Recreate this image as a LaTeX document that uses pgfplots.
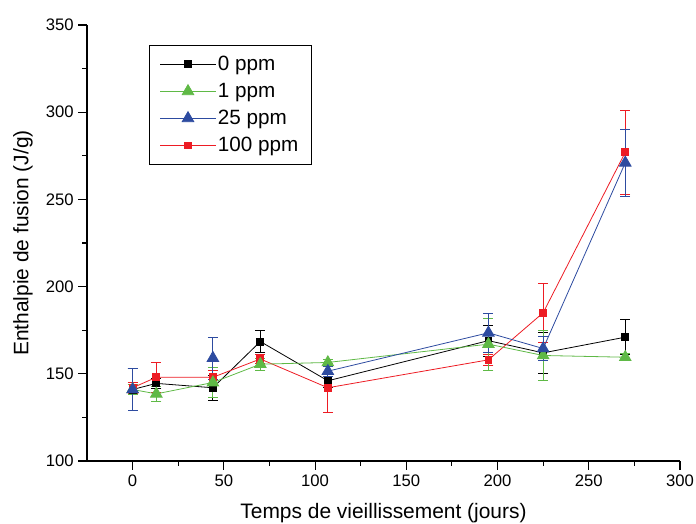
\documentclass[border=0pt]{standalone}
\usepackage{pgfplots}
\pgfplotsset{compat=1.18}
\usepackage{pgfplotstable}
\usepackage{fontspec}
\setmainfont{Liberation Sans}
\definecolor{cgreen}{RGB}{95,185,70}
\definecolor{cblue}{RGB}{45,75,160}
\definecolor{cred}{RGB}{237,28,36}

\pgfplotstableread{
x y e
0 141 12
13 144.5 3
44 142 7
70 168.5 6.5
107 146 4
195 169 9
225 162 12
270 171 10
}\tblack
\pgfplotstableread{
x y e
0 141 3
13 138.5 4.5
44 145 8.5
70 155.5 3.5
107 156.5 2
195 167 15
225 160.5 14.5
270 159.5 2
}\tgreen
\pgfplotstableread{
x y e
0 141 12
13 nan nan
44 159 12
70 nan nan
107 151.5 3
195 173.5 11
225 164.5 7
270 271 19
}\tblue
\pgfplotstableread{
x y e
0 142 3
13 148 8.5
44 148 4
70 158.5 2.5
107 142 14
195 158 3
225 185 17
270 277 24
}\tred

\begin{document}
\begin{tikzpicture}
\useasboundingbox (-65.25pt,-47.25pt) rectangle (456.75pt,345.75pt);
\begin{axis}[
  at={(0,0)}, anchor=south west,
  scale only axis, width=444.75pt, height=327pt,
  xmin=-25, xmax=300, ymin=100, ymax=350,
  axis lines*=left,
  axis line style={line width=0.9pt},
  xtick={0,50,...,300}, ytick={100,150,...,350},
  minor x tick num=1, minor y tick num=1,
  tick align=outside,
  major tick length=6.5pt, minor tick length=3.5pt,
  every tick/.style={black, line width=0.8pt},
  /pgf/number format/assume math mode=true,
  tick label style={font=\fontsize{12.5}{14}\selectfont},
  xlabel={Temps de vieillissement (jours)},
  ylabel={Enthalpie de fusion (J/g)},
  label style={font=\fontsize{15.7}{18}\selectfont},
  xlabel style={at={(axis description cs:0.5,-0.119)}, anchor=center},
  ylabel style={at={(axis description cs:-0.108,0.5)}, anchor=center, rotate=0},
  unbounded coords=jump,
  clip=false,
  legend style={at={(rel axis cs:0.1046,0.954)}, anchor=north west, draw=black, line width=0.6pt,
    font=\fontsize{15.5}{18}\selectfont, inner xsep=8pt, inner ysep=6pt, row sep=4pt,
    nodes={inner xsep=1.5pt}},
  legend cell align=left,
  legend image code/.code={\draw[mark repeat=2,mark phase=2] plot coordinates {(0cm,0cm) (0.725cm,0cm) (1.45cm,0cm)};},
]
\addlegendimage{black, line width=0.6pt, mark=square*, mark size=2.6pt}
\addlegendentry{0 ppm}
\addlegendimage{cgreen, line width=0.6pt, mark=triangle*, mark size=5pt}
\addlegendentry{1 ppm}
\addlegendimage{cblue, line width=0.6pt, mark=triangle*, mark size=5pt}
\addlegendentry{25 ppm}
\addlegendimage{cred, line width=0.6pt, mark=square*, mark size=2.6pt}
\addlegendentry{100 ppm}

\addplot[forget plot, black, line width=0.6pt, mark=square*, mark size=2.6pt,
  error bars/.cd, y dir=both, y explicit, error bar style={line width=0.6pt},
  error mark options={rotate=90, black, mark size=3.7pt, line width=0.6pt}]
  table[x=x, y=y, y error=e] {\tblack};
\addplot[forget plot, cred, line width=0.6pt, mark=square*, mark size=2.6pt,
  error bars/.cd, y dir=both, y explicit, error bar style={line width=0.6pt},
  error mark options={rotate=90, cred, mark size=3.7pt, line width=0.6pt}]
  table[x=x, y=y, y error=e] {\tred};
\addplot[forget plot, cgreen, line width=0.6pt, mark=triangle*, mark size=5pt,
  error bars/.cd, y dir=both, y explicit, error bar style={line width=0.6pt},
  error mark options={rotate=90, cgreen, mark size=3.7pt, line width=0.6pt}]
  table[x=x, y=y, y error=e] {\tgreen};
\addplot[forget plot, cblue, line width=0.6pt, mark=triangle*, mark size=5pt,
  error bars/.cd, y dir=both, y explicit, error bar style={line width=0.6pt},
  error mark options={rotate=90, cblue, mark size=3.7pt, line width=0.6pt}]
  table[x=x, y=y, y error=e] {\tblue};
\end{axis}
\end{tikzpicture}
\end{document}
